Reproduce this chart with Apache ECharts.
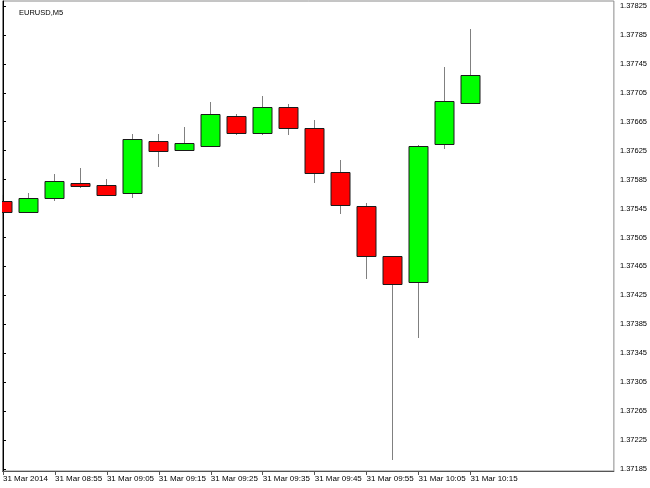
<!DOCTYPE html>
<html>
<head>
<meta charset="utf-8">
<script src="https://cdn.jsdelivr.net/npm/echarts@6/dist/echarts.min.js"></script>
<style>html,body{margin:0;padding:0;background:#fff;}#c{width:650px;height:488px;}</style>
</head>
<body>
<div id="c"></div>
<script>
var times = ['08:45','08:50','08:55','09:00','09:05','09:10','09:15','09:20','09:25','09:30','09:35','09:40','09:45','09:50','09:55','10:00','10:05','10:10','10:15'];
var openV  = [1.37555,1.37540,1.37560,1.37581,1.37577,1.37567,1.37639,1.37626,1.37632,1.37673,1.37650,1.37685,1.37657,1.37595,1.37548,1.37479,1.37443,1.37634,1.37691];
var closeV = [1.37540,1.37560,1.37583,1.37576,1.37564,1.37641,1.37624,1.37635,1.37676,1.37650,1.37685,1.37657,1.37594,1.37550,1.37479,1.37441,1.37631,1.37693,1.37730];
var lowV   = [1.37530,1.37539,1.37556,1.37574,1.37563,1.37559,1.37602,1.37625,1.37632,1.37647,1.37647,1.37647,1.37580,1.37538,1.37447,1.37197,1.37366,1.37628,1.37691];
var highV  = [1.37564,1.37567,1.37593,1.37601,1.37586,1.37648,1.37648,1.37658,1.37692,1.37676,1.37700,1.37690,1.37668,1.37612,1.37552,1.37479,1.37633,1.37740,1.37793];
var xTickIdx = [0,2,4,6,8,10,12,14,16,18];
var xTickLabels = ['31 Mar 2014','31 Mar 08:55','31 Mar 09:05','31 Mar 09:15','31 Mar 09:25','31 Mar 09:35','31 Mar 09:45','31 Mar 09:55','31 Mar 10:05','31 Mar 10:15'];
var yTicks = [1.37185,1.37225,1.37265,1.37305,1.37345,1.37385,1.37425,1.37465,1.37505,1.37545,1.37585,1.37625,1.37665,1.37705,1.37745,1.37785,1.37825];

var data = times.map(function(t, i){ return [i, openV[i], closeV[i], lowV[i], highV[i]]; });
var FONT = '"Liberation Sans", Arial, sans-serif';

var chart = echarts.init(document.getElementById('c'), null, {renderer:'canvas'});
chart.setOption({
  animation: false,
  backgroundColor: '#ffffff',
  title: {text: 'EURUSD,M5', left: 14, top: 4, textStyle: {fontSize: 7.5, fontWeight: 'normal', color: '#000', fontFamily: FONT}},
  grid: {left: 2, right: 36, top: 1, bottom: 17, show: true, borderColor: '#8a8a8a', borderWidth: 1, backgroundColor: '#fff'},
  xAxis: {
    type: 'value', min: -0.019, max: 23.52,
    axisLine: {show: true, onZero: false, lineStyle: {color: '#555', width: 1}},
    axisTick: {show: true, length: 4, customValues: xTickIdx, lineStyle: {color: '#555'}},
    axisLabel: {customValues: xTickIdx, align: 'left', margin: 4, fontSize: 8, color: '#000', fontFamily: FONT,
      formatter: function(v){ var k = xTickIdx.indexOf(Math.round(v)); return k >= 0 ? xTickLabels[k] : ''; }},
    splitLine: {show: false}
  },
  yAxis: {
    type: 'value', position: 'right', min: 1.371822, max: 1.378319, scale: true,
    axisLine: {show: true, lineStyle: {color: '#000', width: 1}},
    axisTick: {show: true, length: 3, customValues: yTicks, lineStyle: {color: '#000'}},
    axisLabel: {customValues: yTicks, margin: 6, fontSize: 7.5, color: '#000', fontFamily: FONT,
      formatter: function(v){ return v.toFixed(5); }},
    splitLine: {show: false}
  },
  series: [{
    type: 'custom',
    clip: true,
    data: data,
    encode: {x: 0, y: [1,2,3,4]},
    renderItem: function(params, api){
      var x = api.value(0), o = api.value(1), c = api.value(2), l = api.value(3), h = api.value(4);
      var pO = api.coord([x, o]), pC = api.coord([x, c]), pL = api.coord([x, l]), pH = api.coord([x, h]);
      var cx = Math.floor(pO[0]) + 0.5;
      var top = Math.round(Math.min(pO[1], pC[1])) + 0.5;
      var bot = Math.round(Math.max(pO[1], pC[1])) + 0.5;
      if (bot - top < 2) bot = top + 2;
      var up = c >= o;
      return {
        type: 'group',
        children: [
          {type: 'line', shape: {x1: cx, y1: Math.round(pH[1]), x2: cx, y2: Math.round(pL[1])}, style: {stroke: '#808080', lineWidth: 1}},
          {type: 'rect', shape: {x: cx - 9.5, y: top, width: 19, height: bot - top}, style: {fill: up ? '#00ff00' : '#ff0000', stroke: '#1a1a1a', lineWidth: 1}}
        ]
      };
    }
  }]
});
</script>
</body>
</html>
